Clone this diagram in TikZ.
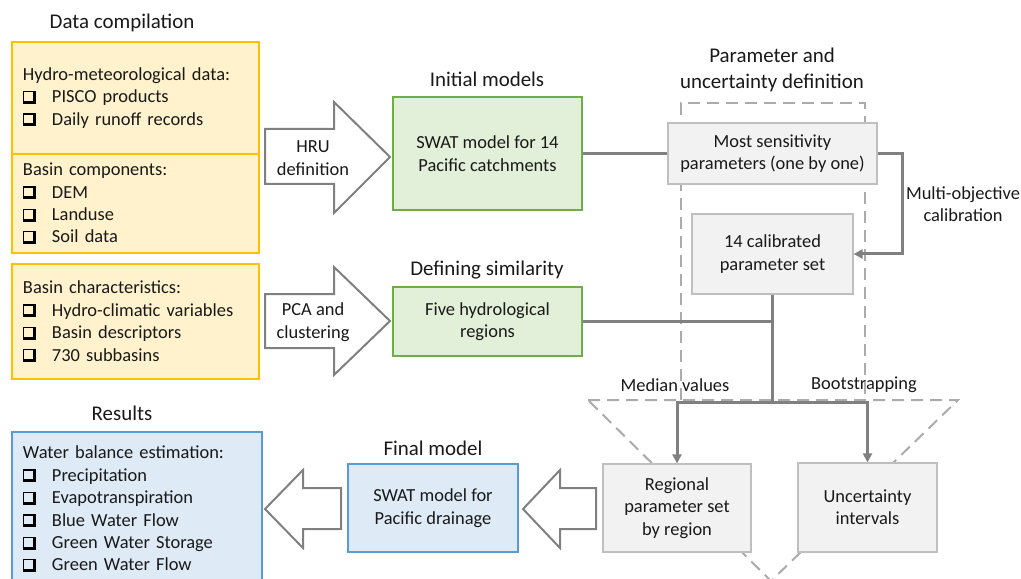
\documentclass[tikz,border=0pt]{standalone}
\usepackage{fontspec}
\setmainfont{Carlito}
\usetikzlibrary{arrows.meta}
\definecolor{yellowline}{HTML}{FFC000}
\definecolor{yellowfill}{HTML}{FFF2CC}
\definecolor{greenline}{HTML}{70AD47}
\definecolor{greenfill}{HTML}{E2F0D9}
\definecolor{blueline}{HTML}{5B9BD5}
\definecolor{bluefill}{HTML}{DEEBF7}
\definecolor{boxline}{HTML}{BFBFBF}
\definecolor{boxfill}{HTML}{F2F2F2}
\definecolor{connline}{HTML}{808080}
\definecolor{dashline}{HTML}{ABABAB}
% shadowed check box in front of the list items
\newcommand{\chk}{\makebox[29bp][l]{\color{black}%
  \rlap{\rule[-1bp]{13.5bp}{3bp}}%
  \rlap{\hspace{10.5bp}\rule[-1bp]{3bp}{13bp}}%
  \rlap{\rule{1.4bp}{12bp}}%
  \rlap{\rule[10.6bp]{12bp}{1.4bp}}}}

\begin{document}
\begin{tikzpicture}[x=1bp,y=-1bp,
  txt/.style={font=\fontsize{18.5}{22.5}\selectfont,text=black!90,align=center},
  ttl/.style={font=\fontsize{21}{26}\selectfont,text=black!90,align=center},
  listbox/.style={txt,align=left,text width=225bp,inner xsep=11bp,inner ysep=0bp,line width=1.2bp},
  databox/.style={listbox,draw=yellowline,fill=yellowfill},
  resbox/.style={listbox,draw=blueline,fill=bluefill,text width=228bp},
  modelbox/.style={txt,draw=greenline,fill=greenfill,line width=1.2bp,inner sep=0bp},
  finalbox/.style={txt,draw=blueline,fill=bluefill,line width=1.2bp,inner sep=0bp},
  parbox/.style={txt,draw=boxline,fill=boxfill,line width=1.2bp,inner sep=0bp},
  conn/.style={draw=connline,line width=3bp},
  tip/.style={-{Triangle[length=9bp,width=9bp]}},
  blockarrow/.style={draw=connline,fill=white,line width=2bp,line join=miter},
  funnel/.style={draw=dashline,line width=2bp,dash pattern=on 12bp off 7bp}]
\path[use as bounding box] (0,0) rectangle (1021,579);

% dashed outline behind the parameter boxes
\draw[funnel] (681,400) -- (681,103) -- (865,103) -- (865,400);
\draw[funnel] (588,400) -- (958,400) -- (771,581) -- cycle;

% data compilation
\node[ttl] (tdata) at (122,23) {Data compilation};
\node[databox,minimum height=112bp] (hydro) at (135.5,98) {Hydro-meteorological data:\\\chk PISCO products\\\chk Daily runoff records};
\node[databox,minimum height=99bp] (comp) at (135.5,203.5) {Basin components:\\\chk DEM\\\chk Landuse\\\chk Soil data};
\node[databox,minimum height=115bp] (char) at (135.5,321.5) {Basin characteristics:\\\chk Hydro-climatic variables\\\chk Basin descriptors\\\chk 730 subbasins};

% results
\node[ttl] (tres) at (122,413) {Results};
\node[resbox,minimum height=154bp] (res) at (137,509) {Water balance estimation:\\\chk Precipitation\\\chk Evapotranspiration\\\chk Blue Water Flow\\\chk Green Water Storage\\\chk Green Water Flow};

% models
\node[ttl] (tinit) at (487,79) {Initial models};
\node[modelbox,minimum width=189bp,minimum height=113bp] (init) at (487.5,153.5) {SWAT model for 14\\Pacific catchments};
\node[ttl] (tsimil) at (487,270) {Defining similarity};
\node[modelbox,minimum width=189bp,minimum height=69bp] (simil) at (487.5,321.5) {Five hydrological\\regions};
\node[ttl] (tfinal) at (433,448) {Final model};
\node[finalbox,minimum width=170bp,minimum height=88bp] (final) at (433,508) {SWAT model for\\Pacific drainage};

% parameter and uncertainty definition
\node[ttl] (tpar) at (772,70) {Parameter and\\uncertainty definition};
\node[parbox,minimum width=209bp,minimum height=61bp] (most) at (772.5,153.5) {Most sensitivity\\parameters (one by one)};
\node[parbox,minimum width=161bp,minimum height=80bp] (calib) at (772.5,254) {14 calibrated\\parameter set};
\node[parbox,minimum width=148bp,minimum height=88bp] (region) at (677,508) {Regional\\parameter set\\by region};
\node[parbox,minimum width=139bp,minimum height=89bp] (uncert) at (867.5,507.5) {Uncertainty\\intervals};

% block arrows
\draw[blockarrow] (265,129) -- (334,129) -- (334,102) -- (390,157) -- (334,213) -- (334,184) -- (265,184) -- cycle;
\node[txt] (hru) at (313,158) {HRU\\definition};
\draw[blockarrow] (265,294) -- (334,294) -- (334,267) -- (390,321) -- (334,375) -- (334,348) -- (265,348) -- cycle;
\node[txt] (pca) at (313,322) {PCA and\\clustering};
\draw[blockarrow] (596,488) -- (560,488) -- (560,470) -- (523,509) -- (560,548) -- (560,529) -- (596,529) -- cycle;
\draw[blockarrow] (341,488) -- (303,488) -- (303,470) -- (265,509) -- (303,548) -- (303,529) -- (341,529) -- cycle;

% connectors
\coordinate (split) at (772.5,402);
\draw[conn] (init.east) -- (most.west);
\draw[conn,tip] (most.east) -- ++(25,0) |- (calib.east);
\node[txt] (multi) at (963,204) {Multi-objective\\calibration};
\draw[conn] (calib.south) -- (split);
\draw[conn] (simil.east) -- (simil.east -| split);
\draw[conn,tip] (split) -| (region.north);
\draw[conn,tip] (split) -| (uncert.north);
\node[txt] (median) at (675,385) {Median values};
\node[txt] (boot) at (864,385) {Bootstrapping};
\end{tikzpicture}
\end{document}
